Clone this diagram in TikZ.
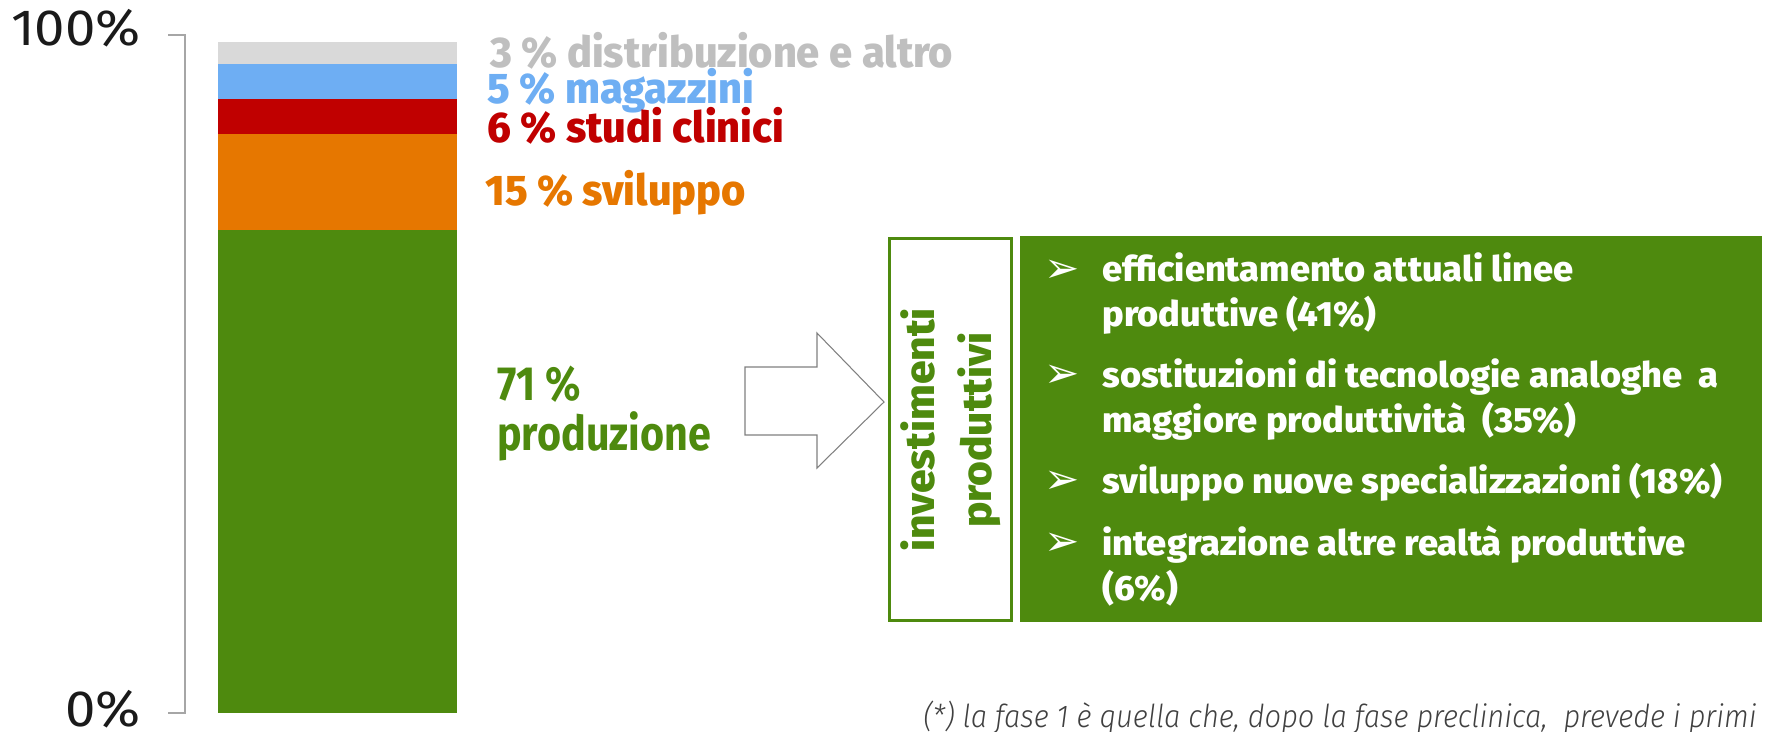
\documentclass[tikz,border=0pt]{standalone}
\usepackage{fontspec}
\setmainfont{Fira Sans}[FakeStretch=0.86]
\newfontfamily\heavyfont{Fira Sans ExtraBold}[FakeStretch=0.97]
\newfontfamily\itemfont{Fira Sans ExtraBold}[FakeStretch=1.03]
\newfontfamily\thinfont{Fira Sans}[FakeStretch=1.07]
\newfontfamily\notefont{Fira Sans Light Italic}[FakeStretch=0.92]
\newfontfamily\symfont{DejaVu Sans}

\definecolor{axisgray}{HTML}{A6A6A6}
\definecolor{axisblack}{HTML}{1A1A1A}
\definecolor{distgray}{HTML}{D9D9D9}
\definecolor{distlbl}{HTML}{BFBFBF}
\definecolor{magblue}{HTML}{6EAEF3}
\definecolor{clinred}{HTML}{C00000}
\definecolor{svilorange}{HTML}{E67700}
\definecolor{prodgreen}{HTML}{4E8A0E}
\definecolor{arrowgray}{HTML}{808080}
\definecolor{notegray}{HTML}{404040}

\tikzset{
  pctlbl/.style={anchor=base east, inner sep=0, text=axisblack, font=\thinfont\fontsize{29}{29}\selectfont},
  seglbl/.style={anchor=base west, inner sep=0, font=\heavyfont\fontsize{24.4}{24.4}\selectfont},
  prodlbl/.style={anchor=base west, inner sep=0, text=prodgreen, font=\bfseries\fontsize{27.3}{27.3}\selectfont},
  item/.style={anchor=base west, align=left, inner sep=0, text=white, font=\itemfont\fontsize{20}{25.6}\selectfont},
  bullet/.style={anchor=base west, inner sep=0, text=white, font=\symfont\fontsize{24}{24}\selectfont}
}

\begin{document}
\begin{tikzpicture}[x=0.02cm, y=-0.02cm]
  \useasboundingbox (0,0) rectangle (1768,731);

  % axis
  \draw[axisgray, line width=1pt] (168,35) -- (185,35) -- (185,713) -- (168,713);
  \node[pctlbl] (top) at (141,45) {100\%};
  \node[pctlbl] (bot) at (141,726) {0\%};

  % stacked bar
  \fill[distgray] (218,42) rectangle (457,64);
  \fill[magblue] (218,64) rectangle (457,99);
  \fill[clinred] (218,99) rectangle (457,134);
  \fill[svilorange] (218,134) rectangle (457,230);
  \fill[prodgreen] (218,230) rectangle (457,713);

  \node[seglbl, text=distlbl] (dist) at (490,67) {3 \% distribuzione e altro};
  \node[seglbl, text=magblue] (mag) at (487,103) {5 \% magazzini};
  \node[seglbl, text=clinred] (clin) at (487,142) {6 \% studi clinici};
  \node[seglbl, text=svilorange] (svil) at (485,205) {15 \% sviluppo};
  \node[prodlbl] (prod) at (497,400) {71 \%};
  \node[prodlbl] (prodtxt) at (497,450) {produzione};

  % block arrow
  \draw[arrowgray, fill=white, line width=0.6pt] (745,367) -- (817,367) -- (817,333)
    -- (884,402) -- (817,468) -- (817,435) -- (745,435) -- cycle;

  % boxes
  \draw[prodgreen, line width=1.7pt] (889.5,238.5) rectangle (1011.5,620.5);
  \node[rotate=90, align=center, inner sep=0, text=prodgreen,
    font=\itemfont\fontsize{23.5}{32.4}\selectfont] (inv) at (951,430) {investimenti\\produttivi};

  \fill[prodgreen] (1020,236) rectangle (1762,622);
  \node[bullet] (b1) at (1044,282) {➢};
  \node[item] (it1) at (1102,326) {efficientamento attuali linee\\produttive (41\%)};
  \node[bullet] (b2) at (1044,387) {➢};
  \node[item] (it2) at (1102,432) {sostituzioni di tecnologie analoghe\ \ a\\maggiore produttività\ \ (35\%)};
  \node[bullet] (b3) at (1044,493) {➢};
  \node[item] (it3) at (1102,493) {sviluppo nuove specializzazioni (18\%)};
  \node[bullet] (b4) at (1044,555) {➢};
  \node[item] (it4) at (1102,600) {integrazione altre realtà produttive\\(6\%)};

  % footnote
  \node[anchor=base west, inner sep=0, text=notegray, font=\notefont\fontsize{18}{18}\selectfont]
    (note) at (923,727) {(*) la fase 1 è quella che, dopo la fase preclinica,\ \ prevede i primi};
\end{tikzpicture}
\end{document}
